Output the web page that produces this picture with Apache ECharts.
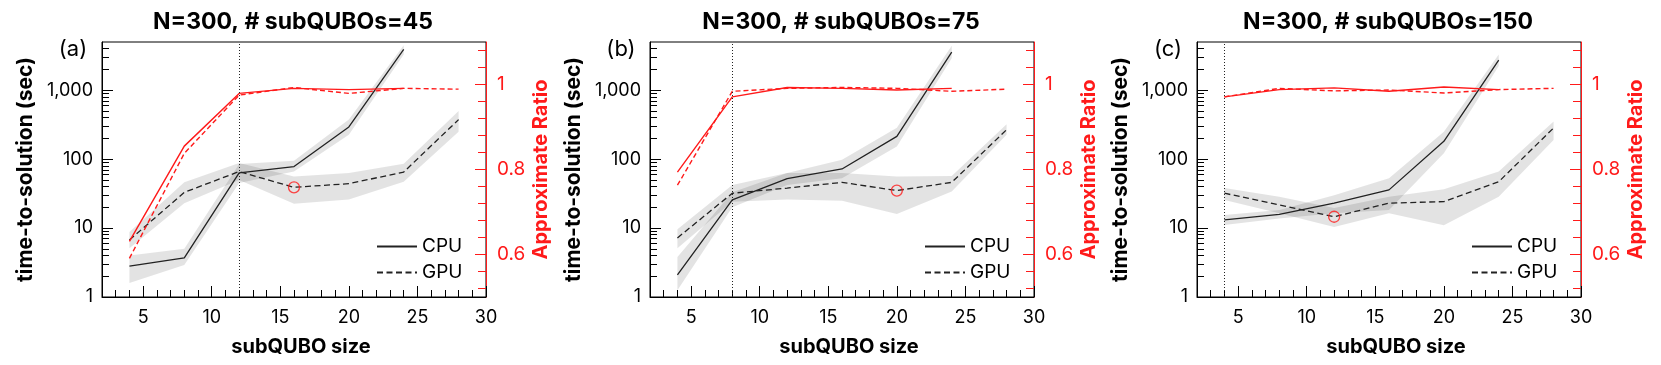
<!DOCTYPE html>
<html><head><meta charset="utf-8">
<script src="https://cdn.jsdelivr.net/npm/echarts@6/dist/echarts.min.js"></script>
<style>html,body{margin:0;padding:0;background:#fff}#c{width:1661px;height:365px}</style>
</head><body><div id="c"></div>
<script>
// ---------- data ----------
const xCPU = [4, 8, 12, 16, 20, 24];
const xGPU = [4, 8, 12, 16, 20, 24, 28];

const cpuA    = [2.8, 3.7, 63, 78, 293, 3900];
const cpuA_lo = [1.6, 2.9, 45, 66, 225, 3300];
const cpuA_hi = [4.0, 5.0, 85, 95, 375, 4500];
const gpuA    = [6.7, 33, 66, 39, 44, 65, 374];
const gpuA_lo = [5.1, 23, 50, 22.5, 26, 47, 250];
const gpuA_hi = [8.8, 46, 88, 56, 63, 86, 500];
const ratioCpuA = [0.631, 0.855, 0.979, 0.991, 0.988, 0.991];
const ratioGpuA = [0.591, 0.838, 0.975, 0.993, 0.979, 0.991, 0.989];

const cpuB    = [2.1, 25.6, 52, 72, 214, 3570];
const cpuB_lo = [1.25, 20, 42, 53, 153, 2900];
const cpuB_hi = [3.8, 33, 63, 98, 285, 4400];
const gpuB    = [7.2, 32, 38, 46, 35, 46, 267];
const gpuB_lo = [5.1, 24, 26, 25, 16, 34, 225];
const gpuB_hi = [9.6, 42, 63, 63, 56, 57, 320];
const ratioCpuB = [0.794, 0.971, 0.993, 0.991, 0.987, 0.991];
const ratioGpuB = [0.763, 0.984, 0.991, 0.993, 0.991, 0.984, 0.989];

const cpuC    = [13.1, 15.8, 23, 35.8, 181, 2730];
const cpuC_lo = [11.1, 13.8, 16.4, 18.3, 122, 2250];
const cpuC_hi = [15.5, 18.3, 30, 53, 250, 3300];
const gpuC    = [32, 21.6, 14.6, 23, 24.2, 47, 283];
const gpuC_lo = [25.6, 16.4, 10.4, 16.4, 11, 28.5, 190];
const gpuC_hi = [38, 28.5, 19.5, 28.5, 36.5, 66, 350];
const ratioCpuC = [0.971, 0.988, 0.992, 0.984, 0.994, 0.988];
const ratioGpuC = [0.971, 0.991, 0.985, 0.987, 0.980, 0.988, 0.991];

const titles = ['N=300, # subQUBOs=45', 'N=300, # subQUBOs=75', 'N=300, # subQUBOs=150'];
const panelLabels = ['(a)', '(b)', '(c)'];
const thresholds = [12, 8, 4];     // dotted vertical line
const circleX = [16, 20, 12];      // red circle on GPU curve

const xMajorTicks = [5, 10, 15, 20, 25, 30];
const xMinorTicks = [3, 4, 6, 7, 8, 9, 11, 12, 13, 14, 16, 17, 18, 19, 21, 22, 23, 24, 26, 27, 28, 29];
const yMajorTicks = [1, 10, 100, 1000];
const yMinorTicks = [2, 3, 4, 5, 6, 7, 8, 9, 20, 30, 40, 50, 60, 70, 80, 90,
                     200, 300, 400, 500, 600, 700, 800, 900, 2000, 3000, 4000];
const rMajorTicks = [0.6, 0.8, 1];
const rMinorTicks = [0.52, 0.56, 0.64, 0.68, 0.72, 0.76, 0.84, 0.88, 0.92, 0.96, 1.04, 1.08];

const panels = [
  {cpu: cpuA, cpuLo: cpuA_lo, cpuHi: cpuA_hi, gpu: gpuA, gpuLo: gpuA_lo, gpuHi: gpuA_hi, rc: ratioCpuA, rg: ratioGpuA},
  {cpu: cpuB, cpuLo: cpuB_lo, cpuHi: cpuB_hi, gpu: gpuB, gpuLo: gpuB_lo, gpuHi: gpuB_hi, rc: ratioCpuB, rg: ratioGpuB},
  {cpu: cpuC, cpuLo: cpuC_lo, cpuHi: cpuC_hi, gpu: gpuC, gpuLo: gpuC_lo, gpuHi: gpuC_hi, rc: ratioCpuC, rg: ratioGpuC}
];

// ---------- layout ----------
const FONT = 'Inter';
const RED = '#ff1a1a';
const gridLeft = [102, 650, 1197];
const GT = 42, GW = 384, GH = 255;

const zip = (xs, ys) => xs.map((x, i) => [x, ys[i]]);

const option = {
  animation: false,
  backgroundColor: '#fff',
  textStyle: {fontFamily: FONT},
  title: [], grid: [], xAxis: [], yAxis: [], series: [], legend: []
};

panels.forEach((p, k) => {
  const L = gridLeft[k];
  option.title.push({
    text: titles[k], left: L + 191, top: 11, textAlign: 'center', padding: 0,
    textStyle: {fontFamily: FONT, fontSize: 23, fontWeight: 'bold', color: '#000'}
  });
  option.title.push({
    text: panelLabels[k], left: L - 29, top: 38, textAlign: 'center', padding: 0,
    textStyle: {fontFamily: FONT, fontSize: 22, fontWeight: 'normal', color: '#000'}
  });
  option.grid.push({left: L, top: GT, width: GW, height: GH, show: true,
    borderColor: '#000', borderWidth: 1, backgroundColor: 'transparent'});

  const tickFont = {fontFamily: FONT, fontSize: 18, color: '#000'};
  // x axes
  option.xAxis.push({
    type: 'value', gridIndex: k, min: 2, max: 30, position: 'bottom',
    name: 'subQUBO size', nameLocation: 'middle', nameGap: 40,
    nameTextStyle: {fontFamily: FONT, fontSize: 20, fontWeight: 'bold', color: '#000', padding: [0, 0, 0, 14]},
    axisLine: {show: true, lineStyle: {color: '#000', width: 1}},
    axisTick: {show: true, inside: true, length: 11, customValues: xMajorTicks, lineStyle: {color: '#000', width: 1}},
    axisLabel: {show: true, margin: 12, customValues: xMajorTicks, ...tickFont},
    splitLine: {show: false}
  });
  option.xAxis.push({
    type: 'value', gridIndex: k, min: 2, max: 30, position: 'bottom',
    axisLine: {show: false},
    axisTick: {show: true, inside: true, length: 7, customValues: xMinorTicks, lineStyle: {color: '#000', width: 1}},
    axisLabel: {show: false}, splitLine: {show: false}
  });
  // y axes
  option.yAxis.push({
    type: 'log', gridIndex: k, min: 1, max: 5000, position: 'left',
    name: 'time-to-solution (sec)', nameLocation: 'middle', nameGap: 66, nameRotate: 90,
    nameTextStyle: {fontFamily: FONT, fontSize: 21, fontWeight: 'bold', color: '#000'},
    axisLine: {show: true, lineStyle: {color: '#000', width: 1}},
    axisTick: {show: true, inside: true, length: 11, customValues: yMajorTicks, lineStyle: {color: '#000', width: 1}},
    axisLabel: {show: true, margin: 9, customValues: yMajorTicks, ...tickFont,
      formatter: v => Number(v).toLocaleString('en-US')},
    splitLine: {show: false}
  });
  option.yAxis.push({
    type: 'log', gridIndex: k, min: 1, max: 5000, position: 'left',
    axisLine: {show: false},
    axisTick: {show: true, inside: true, length: 7, customValues: yMinorTicks, lineStyle: {color: '#000', width: 1}},
    axisLabel: {show: false}, splitLine: {show: false}
  });
  option.yAxis.push({
    type: 'value', gridIndex: k, min: 0.5, max: 1.1, position: 'right',
    name: 'Approximate Ratio', nameLocation: 'middle', nameGap: 45, nameRotate: 90,
    nameTextStyle: {fontFamily: FONT, fontSize: 20, fontWeight: 'bold', color: RED},
    axisLine: {show: true, lineStyle: {color: RED, width: 1}},
    axisTick: {show: true, inside: true, length: 11, customValues: rMajorTicks, lineStyle: {color: RED, width: 1}},
    axisLabel: {show: true, margin: 11, customValues: rMajorTicks, fontFamily: FONT, fontSize: 19, color: RED},
    splitLine: {show: false}
  });
  option.yAxis.push({
    type: 'value', gridIndex: k, min: 0.5, max: 1.1, position: 'right',
    axisLine: {show: false},
    axisTick: {show: true, inside: true, length: 8, customValues: rMinorTicks, lineStyle: {color: RED, width: 1}},
    axisLabel: {show: false}, splitLine: {show: false}
  });

  const xi = 2 * k, yi = 4 * k, ri = 4 * k + 2;
  const band = (xs, lo, hi) => ({
    type: 'custom', xAxisIndex: xi, yAxisIndex: yi, silent: true, z: 1,
    data: [[xs[0], lo[0]]],
    renderItem: (params, api) => {
      const pts = [];
      xs.forEach((x, i) => pts.push(api.coord([x, hi[i]])));
      for (let i = xs.length - 1; i >= 0; i--) pts.push(api.coord([xs[i], lo[i]]));
      return {type: 'polygon', shape: {points: pts}, style: {fill: 'rgba(0,0,0,0.11)'}};
    }
  });
  option.series.push(band(xCPU, p.cpuLo, p.cpuHi));
  option.series.push(band(xGPU, p.gpuLo, p.gpuHi));
  option.series.push({
    name: 'CPU', type: 'line', xAxisIndex: xi, yAxisIndex: yi, data: zip(xCPU, p.cpu),
    symbol: 'none', z: 3, lineStyle: {color: '#222', width: 1.3, type: 'solid'},
    itemStyle: {color: '#222'},
    markLine: {silent: true, symbol: ['none', 'none'], label: {show: false},
      lineStyle: {color: '#222', width: 1, type: [1, 2]}, data: [{xAxis: thresholds[k]}]}
  });
  option.series.push({
    name: 'GPU', type: 'line', xAxisIndex: xi, yAxisIndex: yi, data: zip(xGPU, p.gpu),
    symbol: 'none', z: 3, lineStyle: {color: '#222', width: 1.3, type: [6, 3.5]},
    itemStyle: {color: '#222'}
  });
  option.series.push({
    name: 'CPU ratio', type: 'line', xAxisIndex: xi, yAxisIndex: ri, data: zip(xCPU, p.rc),
    symbol: 'none', z: 4, lineStyle: {color: RED, width: 1.4, type: 'solid'}
  });
  option.series.push({
    name: 'GPU ratio', type: 'line', xAxisIndex: xi, yAxisIndex: ri, data: zip(xGPU, p.rg),
    symbol: 'none', z: 4, lineStyle: {color: RED, width: 1.4, type: [5, 3]}
  });
  const ci = xGPU.indexOf(circleX[k]);
  option.series.push({
    name: 'best', type: 'scatter', xAxisIndex: xi, yAxisIndex: yi, z: 5,
    data: [[circleX[k], p.gpu[ci]]], symbol: 'circle', symbolSize: 11,
    itemStyle: {color: 'rgba(0,0,0,0)', borderColor: RED, borderWidth: 1.3}
  });
  option.legend.push({
    data: ['CPU', 'GPU'], orient: 'vertical', left: L + 274, top: 237, padding: 0,
    itemWidth: 40, itemHeight: 14, itemGap: 7, selectedMode: false,
    itemStyle: {opacity: 0},
    textStyle: {fontFamily: FONT, fontSize: 19, color: '#000'}
  });
});

const chart = echarts.init(document.getElementById('c'), null, {renderer: 'canvas'});
chart.setOption(option);
</script>
</body></html>
